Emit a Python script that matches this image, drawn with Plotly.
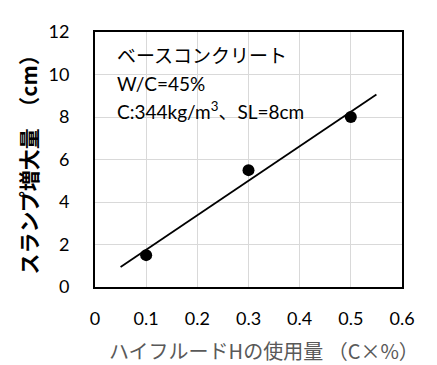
import numpy as np
import plotly.graph_objects as go

x_vals = [0.1, 0.3, 0.5]
y_vals = [1.5, 5.5, 8.0]
trend_x = [0.05, 0.55]
x_ticks = [0, 0.1, 0.2, 0.3, 0.4, 0.5, 0.6]
x_tick_text = ["0", "0.1", "0.2", "0.3", "0.4", "0.5", "0.6"]
y_ticks = [0, 2, 4, 6, 8, 10, 12]
note_lines = ["ベースコンクリート", "W/C=45%", "C:344kg/m<sup>3</sup>、SL=8cm"]
x_title = "ハイフルードHの使用量 （C×%）"
y_title = "スランプ増大量　（cm）"

slope, intercept = np.polyfit(x_vals, y_vals, 1)
trend_y = [slope * t + intercept for t in trend_x]

font_main = "Lato, 'Noto Sans CJK JP', sans-serif"
font_cjk = "'Noto Sans CJK JP', sans-serif"

# page body has an 8px default margin; compensate
W, H = 429, 357
L, R, T, B = 87, 35, 13, 78
pw, ph = W - L - R, H - T - B

fig = go.Figure()
fig.add_trace(go.Scatter(x=trend_x, y=trend_y, mode="lines",
                         line=dict(color="black", width=1.8), showlegend=False))
fig.add_trace(go.Scatter(x=x_vals, y=y_vals, mode="markers",
                         marker=dict(color="black", size=12), showlegend=False))

fig.update_layout(
    width=W, height=H,
    margin=dict(l=L, r=R, t=T, b=B),
    paper_bgcolor="white", plot_bgcolor="white",
    font=dict(family=font_main, size=18, color="black"),
    xaxis=dict(range=[0, 0.6], tickvals=x_ticks, ticktext=x_tick_text,
               showgrid=True, gridcolor="#d9d9d9", gridwidth=1,
               showline=True, linecolor="black", linewidth=2, mirror=True,
               zeroline=False, ticks="", ticklabelstandoff=14,
               tickfont=dict(size=18, color="black")),
    yaxis=dict(range=[0, 12], tickvals=y_ticks,
               showgrid=True, gridcolor="#d9d9d9", gridwidth=1,
               showline=True, linecolor="black", linewidth=2, mirror=True,
               zeroline=False, ticks="", ticklabelstandoff=20,
               tickfont=dict(size=18, color="black")),
)

line_y = [46, 75, 103]
for txt, py in zip(note_lines, line_y):
    fig.add_annotation(xref="paper", yref="paper", x=(115 - 95) / pw, y=1 - (py - 21) / ph,
                       text=txt, showarrow=False, xanchor="left", yanchor="middle",
                       font=dict(family=font_main, size=19, color="black"))

fig.add_annotation(xref="paper", yref="paper", x=(264 - 95) / pw, y=0, yshift=-(350 - 287),
                   text=x_title, showarrow=False, xanchor="center", yanchor="middle",
                   font=dict(family=font_cjk, size=20, color="#595959"))
fig.add_annotation(xref="paper", yref="paper", x=0, y=0.5, xshift=-(95 - 27),
                   text="<b>" + y_title + "</b>", showarrow=False, textangle=-90,
                   xanchor="center", yanchor="middle",
                   font=dict(family=font_cjk, size=21, color="black"))

fig.write_html("out.html")
